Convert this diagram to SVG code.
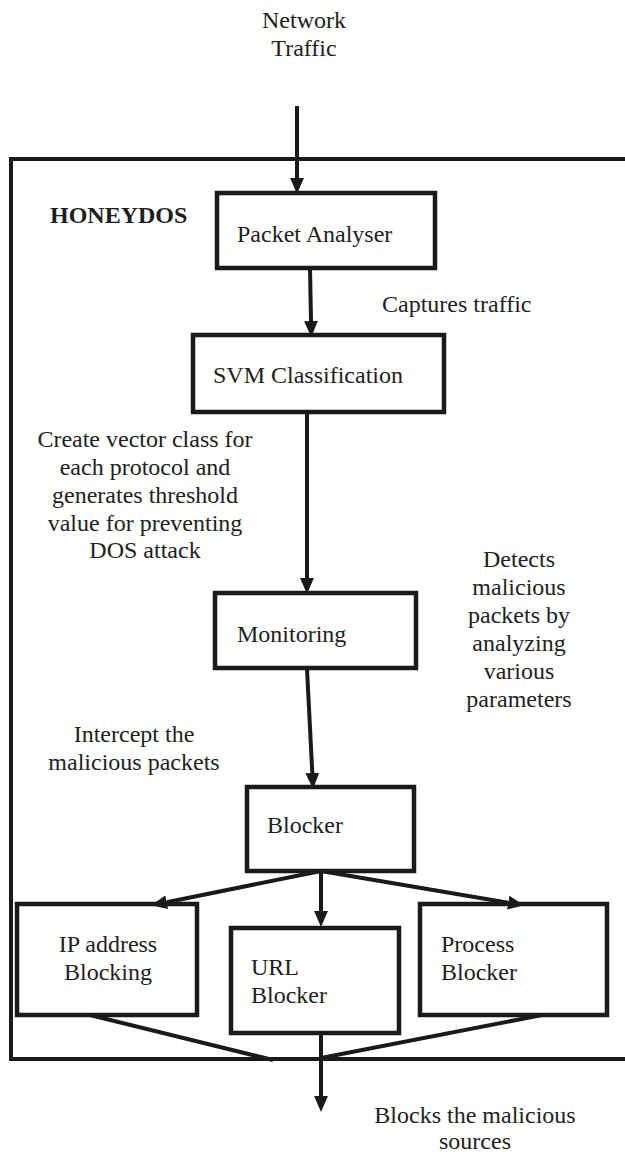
<svg xmlns="http://www.w3.org/2000/svg" width="625" height="1152" viewBox="0 0 625 1152" font-family="'Liberation Serif', Tinos, 'Times New Roman', Times, 'DejaVu Serif', serif">
<style>
text{font-family:'Liberation Serif', Tinos, 'Times New Roman', Times, 'DejaVu Serif', serif;font-size:24px;fill:#1e1e1e}
.b{font-weight:bold}
.c{text-anchor:middle}
.box{fill:#fff;stroke:#1a1a1a;stroke-width:4.5}
.ln{stroke:#1a1a1a;stroke-width:4;fill:none}
.fr{stroke:#1a1a1a;stroke-width:4;fill:none}
</style>
<defs>
<marker id="ah" markerUnits="userSpaceOnUse" markerWidth="16" markerHeight="16" refX="0" refY="6.5" orient="auto" viewBox="0 0 15 13">
<path d="M0,0 L15,6.5 L0,13 z" fill="#1a1a1a"/>
</marker>
</defs>
<g id="frame">
<path class="fr" d="M625,159 H11 V1059 H625"/>
<text id="honeydos" class="b" x="50" y="223">HONEYDOS</text>
</g>
<g id="network-traffic">
<text class="c" x="304" y="28">Network</text>
<text class="c" x="304" y="56">Traffic</text>
</g>
<g id="packet-analyser">
<rect class="box" x="217" y="193" width="218" height="75"/>
<text x="237" y="242">Packet Analyser</text>
</g>
<g id="svm">
<rect class="box" x="193" y="335" width="251" height="77"/>
<text x="213" y="383">SVM Classification</text>
</g>
<g id="monitoring">
<rect class="box" x="215" y="593" width="201" height="75"/>
<text x="237" y="642">Monitoring</text>
</g>
<g id="blocker">
<rect class="box" x="247" y="787" width="167" height="84"/>
<text x="267" y="833">Blocker</text>
</g>
<g id="ip-blocking">
<rect class="box" x="17" y="904" width="180" height="111"/>
<text class="c" x="108" y="952">IP address</text>
<text class="c" x="108" y="980">Blocking</text>
</g>
<g id="url-blocker">
<rect class="box" x="231" y="928" width="168" height="105"/>
<text x="251" y="975">URL</text>
<text x="251" y="1003">Blocker</text>
</g>
<g id="process-blocker">
<rect class="box" x="420" y="904" width="187" height="111"/>
<text x="441" y="952">Process</text>
<text x="441" y="980">Blocker</text>
</g>
<g id="labels">
<text x="382" y="312">Captures traffic</text>
<text class="c" x="145" y="447">Create vector class for</text>
<text class="c" x="145" y="475">each protocol and</text>
<text class="c" x="145" y="503">generates threshold</text>
<text class="c" x="145" y="531">value for preventing</text>
<text class="c" x="145" y="558">DOS attack</text>
<text class="c" x="519" y="567">Detects</text>
<text class="c" x="519" y="595">malicious</text>
<text class="c" x="519" y="623">packets by</text>
<text class="c" x="519" y="651">analyzing</text>
<text class="c" x="519" y="679">various</text>
<text class="c" x="519" y="707">parameters</text>
<text class="c" x="134" y="742">Intercept the</text>
<text class="c" x="134" y="770">malicious packets</text>
<text class="c" x="475" y="1123">Blocks the malicious</text>
<text class="c" x="475" y="1149">sources</text>
</g>
<g id="connectors">
<line class="ln" x1="297" y1="106" x2="297" y2="178" marker-end="url(#ah)"/>
<line class="ln" x1="310" y1="268" x2="311" y2="321" marker-end="url(#ah)"/>
<line class="ln" x1="307" y1="412" x2="307" y2="578" marker-end="url(#ah)"/>
<line class="ln" x1="307" y1="669" x2="312.3" y2="773" marker-end="url(#ah)"/>
<line class="ln" x1="321" y1="871" x2="166.7" y2="902.2" marker-end="url(#ah)"/>
<line class="ln" x1="321" y1="871" x2="508.2" y2="902.7" marker-end="url(#ah)"/>
<line class="ln" x1="321" y1="871" x2="321" y2="911" marker-end="url(#ah)"/>
<line class="ln" x1="90" y1="1015" x2="273" y2="1060"/>
<line class="ln" x1="542" y1="1015" x2="321" y2="1058"/>
<line class="ln" x1="321" y1="1033" x2="321" y2="1096" marker-end="url(#ah)"/>
</g>
</svg>
